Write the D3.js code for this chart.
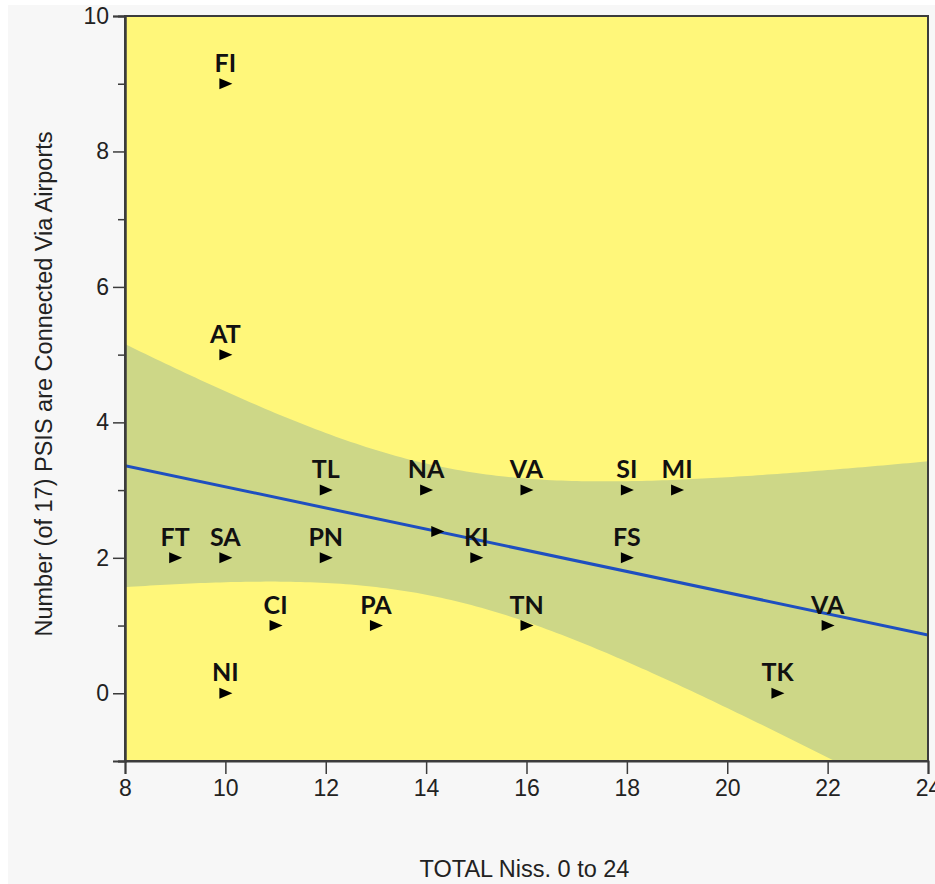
<!DOCTYPE html>
<html>
<head>
<meta charset="utf-8">
<script src="https://cdn.jsdelivr.net/npm/d3@7"></script>
<style>
  body { margin: 0; background: #fff; }
  svg { display: block; }
</style>
</head>
<body>
<div id="chart"></div>
<script>
// data
var codes = ["FI","AT","TL","NA","VA","SI","MI","FT","SA","PN","KI","FS","CI","PA","TN","VA","NI","TK"];
var nissTotal = [10,10,12,14,16,18,19,9,10,12,15,18,11,13,16,22,10,21];
var psisAirports = [9,5,3,3,3,3,3,2,2,2,2,2,1,1,1,1,0,0];
var xTicks = [8,10,12,14,16,18,20,22,24];
var yTicks = [0,2,4,6,8,10];
var yMinorTicks = [-1,1,3,5,7,9];

var width = 935, height = 884;
var margin = {left: 125, top: 16, right: 7, bottom: 123};
var pw = width - margin.left - margin.right;
var ph = height - margin.top - margin.bottom;

var svg = d3.select("#chart").append("svg").attr("width", width).attr("height", height);
svg.append("rect").attr("x", 8).attr("y", 5).attr("width", width - 8).attr("height", height - 5).attr("fill", "#f7f7f7");

var x = d3.scaleLinear().domain([8, 24]).range([0, pw]);
var y = d3.scaleLinear().domain([-1, 10]).range([ph, 0]);

var g = svg.append("g").attr("transform", "translate(" + margin.left + "," + margin.top + ")");

svg.append("defs").append("clipPath").attr("id", "clip")
  .append("rect").attr("width", pw).attr("height", ph);

g.append("rect").attr("width", pw).attr("height", ph).attr("fill", "#fff77a");

// least squares fit + confidence band for the mean
var n = nissTotal.length;
var mx = d3.mean(nissTotal), my = d3.mean(psisAirports);
var sxx = d3.sum(nissTotal, function(v) { return (v - mx) * (v - mx); });
var sxy = d3.sum(nissTotal, function(v, i) { return (v - mx) * (psisAirports[i] - my); });
var slope = sxy / sxx;
var icpt = my - slope * mx;
var sse = d3.sum(nissTotal, function(v, i) { var r = psisAirports[i] - (icpt + slope * v); return r * r; });
var se = Math.sqrt(sse / (n - 2));
var tCrit = 2.03;
var fit = function(v) { return icpt + slope * v; };
var half = function(v) { return tCrit * se * Math.sqrt(1 / n + (v - mx) * (v - mx) / sxx); };

var bandXs = d3.range(8, 24.001, 0.1);
var plot = g.append("g").attr("clip-path", "url(#clip)");
plot.append("path")
  .datum(bandXs)
  .attr("fill", "#cdd787")
  .attr("d", d3.area()
    .x(function(d) { return x(d); })
    .y0(function(d) { return y(fit(d) - half(d)); })
    .y1(function(d) { return y(fit(d) + half(d)); }));

plot.append("line")
  .attr("x1", x(8)).attr("y1", y(fit(8)))
  .attr("x2", x(24)).attr("y2", y(fit(24)))
  .attr("stroke", "#1e4fc0").attr("stroke-width", 3);

// frame
g.append("rect").attr("width", pw).attr("height", ph)
  .attr("fill", "none").attr("stroke", "#3c3c3c").attr("stroke-width", 2);

// axes
var yAxis = g.append("g").call(d3.axisLeft(y).tickValues(yTicks).tickSize(12).tickPadding(4).tickFormat(d3.format("d")));
g.append("g").call(d3.axisLeft(y).tickValues(yMinorTicks).tickSize(7).tickFormat(""));
var xAxis = g.append("g").attr("transform", "translate(0," + ph + ")")
  .call(d3.axisBottom(x).tickValues(xTicks).tickSize(13).tickPadding(6).tickFormat(d3.format("d")));

g.selectAll(".domain").attr("stroke", "#3c3c3c").attr("stroke-width", 2);
g.selectAll(".tick line").attr("stroke", "#3c3c3c").attr("stroke-width", 1.5);
g.selectAll(".tick text").attr("font-family", "'Liberation Sans', Arial, sans-serif")
  .attr("font-size", 23).attr("fill", "#222");

// markers and labels
var pts = codes.map(function(c, i) { return {code: c, x: nissTotal[i], y: psisAirports[i]}; });
pts.push({code: "", x: mx, y: my});

var tri = "M-6,-5.5L7,0L-6,5.5Z";
var marks = g.append("g").selectAll("g").data(pts).enter().append("g")
  .attr("transform", function(d) { return "translate(" + x(d.x) + "," + y(d.y) + ")"; });
marks.append("path").attr("d", tri).attr("fill", "#000");
marks.append("text")
  .attr("y", -12)
  .attr("text-anchor", "middle")
  .attr("font-family", "Lato, 'Open Sans', sans-serif")
  .attr("font-weight", "bold")
  .attr("font-size", 25)
  .attr("fill", "#111")
  .text(function(d) { return d.code; });

// titles
svg.append("text")
  .attr("x", margin.left + pw / 2 - 2).attr("y", 877)
  .attr("text-anchor", "middle")
  .attr("font-family", "'Liberation Sans', Arial, sans-serif")
  .attr("font-size", 23.5).attr("fill", "#222")
  .text("TOTAL Niss. 0 to 24");

svg.append("text")
  .attr("transform", "translate(52,384) rotate(-90)")
  .attr("text-anchor", "middle")
  .attr("font-family", "'Liberation Sans', Arial, sans-serif")
  .attr("font-size", 23.5).attr("fill", "#222")
  .text("Number (of 17) PSIS are Connected Via Airports");
</script>
</body>
</html>
